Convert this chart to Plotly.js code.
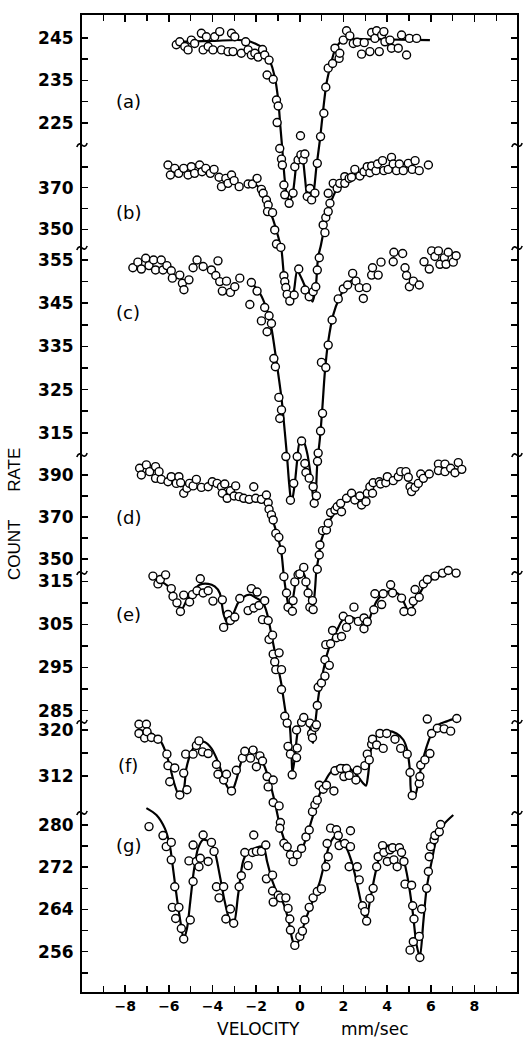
<!DOCTYPE html>
<html>
<head>
<meta charset="utf-8">
<script src="https://cdn.plot.ly/plotly-3.0.1.min.js"></script>
<style>html,body{margin:0;padding:0;background:#fff;}#chart{width:525px;height:1043px;}</style>
</head>
<body>
<div id="chart"></div>
<script>
// ---------- data (velocity mm/sec, count rate) ----------
const aX = [-5.66,-5.50,-5.27,-5.12,-4.97,-4.82,-4.51,-4.43,-4.28,-4.20,-3.98,-3.90,-3.67,-3.59,-3.29,-3.13,-2.98,-3.06,-2.68,-2.48,-2.37,-2.22,-2.06,-1.91,-1.71,-1.61,-1.41,-1.50,-1.22,-1.07,-0.99,-1.04,-0.92,-0.84,-0.80,-0.73,-0.69,-0.49,-0.31,-0.23,-0.08,0.03,0.05,0.15,0.23,0.34,0.46,0.54,0.69,0.80,0.95,1.10,1.19,1.30,1.50,1.61,1.80,1.83,1.99,2.14,2.29,2.45,2.63,2.83,2.95,3.21,3.29,3.44,3.52,3.64,3.75,3.90,3.85,4.13,4.20,4.51,4.66,4.89,5.02,5.35];
const aY = [243.4,244.1,243.0,242.2,244.5,243.7,246.1,242.2,245.3,243.0,242.2,245.3,246.5,242.2,241.8,246.1,245.3,241.8,241.4,244.1,242.2,241.0,241.4,240.5,242.3,241.0,239.8,236.3,235.3,230.4,229.0,225.1,219.0,216.5,215.1,210.4,208.1,206.1,208.5,214.7,216.3,222.0,217.5,216.3,217.7,207.7,209.6,206.9,208.5,215.5,221.8,227.3,233.4,237.9,239.0,242.6,240.2,241.4,244.5,246.7,245.5,243.7,244.0,241.2,243.9,241.8,246.3,244.9,246.7,241.8,245.7,244.1,246.5,244.5,242.6,242.6,245.7,241.0,244.9,244.9];
const aFitX = [-5.66,-4.0,-2.45,-1.68,-1.38,-1.15,-0.99,-0.89,-0.80,-0.69,-0.58,-0.46,-0.31,-0.15,0.0,0.12,0.23,0.34,0.46,0.61,0.76,0.92,1.07,1.22,1.41,1.61,1.83,2.14,3.21,5.96];
const aFitY = [244.1,244.3,244.4,242.6,239.8,235.9,230.4,224.1,218.7,211.6,207.7,206.5,208.9,215.5,218.3,217.1,212.4,207.7,206.5,208.1,214.7,221.0,228.1,234.3,238.6,242.2,243.9,244.7,244.7,244.5];

const bX = [-6.04,-5.93,-5.73,-5.55,-5.32,-5.12,-4.97,-4.82,-4.59,-4.48,-4.31,-4.10,-3.93,-3.70,-3.59,-3.39,-3.29,-3.13,-3.01,-2.78,-2.37,-2.17,-1.96,-1.76,-1.68,-1.53,-1.45,-1.48,-1.25,-1.15,-1.07,-0.87,-0.73,-0.69,-0.64,-0.58,-0.46,-0.26,-0.05,0.24,0.43,0.61,0.73,0.80,0.89,1.07,1.15,1.19,1.30,1.38,1.30,1.53,1.71,1.83,2.06,2.06,2.26,2.37,2.52,2.75,2.94,3.09,3.21,3.29,3.49,3.56,3.79,3.85,4.05,4.20,4.28,4.43,4.56,4.74,4.97,5.15,5.28,5.47,5.89];
const bY = [380.9,376.1,379.3,376.9,379.3,376.1,380.1,376.9,380.9,377.7,379.3,376.9,378.8,375.0,370.5,374.5,372.1,376.1,373.4,370.5,371.8,371.8,374.5,369.2,367.3,364.1,361.7,358.5,358.0,349.7,342.9,341.3,327.7,324.8,322.0,318.7,315.5,318.4,330.9,320.8,317.6,320.0,322.4,330.4,336.3,352.1,348.4,355.7,358.5,362.5,367.3,372.1,369.7,372.1,375.3,372.1,374.5,375.0,378.8,375.6,377.7,380.1,377.2,380.4,378.2,381.4,383.0,378.2,378.8,384.6,381.4,378.2,381.4,378.2,381.7,378.8,383.0,378.2,380.9];
const bFitX = [-2.14,-1.76,-1.45,-1.22,-0.99,-0.84,-0.73,-0.61,-0.46,-0.28,-0.12,0.08,0.31,0.58,0.73,0.84,0.95,1.15,1.38,1.68,2.14,2.91];
const bFitY = [372.4,368.9,360.9,354.5,346.4,340.0,327.9,319.9,315.5,320.0,330.0,326.4,320.8,315.2,322.4,336.8,341.6,352.1,361.7,368.9,373.7,377.7];

const cX = [-7.65,-7.42,-7.26,-7.06,-6.91,-6.70,-6.61,-6.35,-6.27,-6.09,-5.89,-5.84,-5.50,-5.38,-5.31,-5.08,-4.89,-4.71,-4.43,-4.05,-3.85,-3.75,-3.67,-3.55,-3.36,-3.18,-2.98,-2.75,-2.29,-2.22,-1.96,-1.76,-1.61,-1.50,-1.41,-1.30,-1.19,-1.12,-0.96,-0.84,-0.92,-0.64,
  -0.12,0.23,0.28,0.43,-0.43,-0.28,0.61,0.66,0.76,0.81,0.84,0.08,
  0.95,1.04,0.99,1.19,1.30,1.48,1.76,1.99,2.19,2.42,2.57,2.72,2.91,3.06,3.29,3.33,3.59,3.72,4.28,4.31,4.71,4.82,4.89,5.02,5.20,5.47,5.69,5.93,6.04,6.19,6.35,6.42,6.62,6.70,6.80,7.03,7.16];
const cY = [353.2,354.5,352.9,355.4,353.7,355.0,352.7,355.0,352.7,353.7,352.5,350.8,351.5,349.6,348.1,350.4,353.2,355.0,353.5,352.7,351.4,354.8,350.0,347.8,350.1,347.5,348.8,350.8,344.7,349.8,347.8,340.9,344.0,338.4,342.1,340.3,332.2,330.3,323.2,320.3,318.3,309.5,
  309.5,307.9,305.8,304.5,299.4,303.3,302.5,298.7,300.4,308.4,310.3,313.1,
  315.4,319.5,331.3,330.1,335.3,341.1,346.0,348.3,349.2,351.9,350.1,348.6,346.1,348.6,351.5,353.2,351.5,354.5,354.6,356.8,356.5,353.2,351.4,348.8,350.1,349.2,354.6,352.9,357.1,355.8,357.1,354.0,355.5,354.0,356.8,354.5,356.0];
const cFitX = [-2.22,-1.83,-1.53,-1.30,-1.07,-0.84,-0.69,-0.58,-0.49,-0.38,-0.23,-0.12,0.0,0.18,0.34,0.49,0.61,0.69,0.80,0.92,1.02,1.15,1.30,1.53,1.80,2.14,2.45,2.72];
const cFitY = [349.8,347.3,343.8,339.2,331.5,323.0,315.3,309.1,303.3,298.7,303.3,308.7,312.8,312.8,310.2,305.4,300.0,297.8,307.9,313.7,319.9,329.2,336.1,342.3,346.1,349.1,350.4,349.1];

const dX = [-7.34,-7.26,-7.03,-6.88,-6.61,-6.61,-6.45,-6.35,-6.04,-5.89,-5.66,-5.54,-5.46,-5.32,-5.17,-5.05,-4.89,-4.74,-4.51,-4.20,-4.01,-3.79,-3.59,-3.44,-3.55,-3.33,-3.18,-3.01,-2.94,-2.78,-2.57,-2.32,-2.11,-2.02,-1.76,-1.53,-1.45,-1.41,-1.30,-1.22,-1.10,-0.96,-0.84,-0.73,
  -0.61,-0.54,-0.34,-0.31,-0.23,-0.08,0.28,0.38,0.46,0.58,0.61,0.00,0.18,
  0.80,0.89,0.92,1.04,1.22,1.30,1.41,1.61,1.71,1.91,1.87,2.14,2.37,2.52,2.75,2.83,3.03,3.09,3.21,3.33,3.36,3.64,3.70,3.94,4.01,4.28,4.51,4.62,4.86,4.97,5.05,5.12,5.28,5.43,5.54,5.66,5.93,6.35,6.65,6.35,6.65,6.91,7.11,7.26,7.42];
const dY = [393.2,390.0,394.8,391.6,394.0,388.4,391.6,387.9,386.8,389.2,386.0,389.2,386.3,381.3,383.7,386.0,384.8,387.9,384.1,384.4,386.8,386.0,384.4,385.7,381.3,378.9,382.5,380.0,384.8,379.7,378.9,378.4,384.4,378.9,378.4,380.5,376.8,373.7,371.0,368.6,362.2,360.3,354.3,341.6,
  333.8,327.0,325.1,330.2,339.1,342.5,339.1,333.8,327.0,330.2,325.9,342.9,346.0,
  345.1,351.9,356.7,363.5,363.8,367.0,372.1,373.3,374.9,372.5,376.5,378.9,381.3,378.1,380.0,375.7,377.3,381.3,384.4,381.3,386.3,386.8,385.7,386.3,389.2,387.3,389.2,391.6,391.6,388.9,384.4,382.1,384.1,386.0,390.5,388.4,390.5,395.2,395.2,392.1,391.6,393.2,391.1,395.9,392.7];
const dFitX = [-1.71,-1.45,-1.22,-0.99,-0.84,-0.73,-0.61,-0.46,-0.31,-0.15,0.03,0.23,0.43,0.58,0.70,0.76,0.84,0.99,1.22,1.53,1.99];
const dFitY = [379.7,374.9,367.8,359.8,352.7,341.6,333.0,325.1,331.5,341.0,344.9,341.8,331.5,325.1,336.2,344.9,349.5,359.1,365.4,371.0,376.5];

const eX = [-6.73,-6.50,-6.39,-6.15,-5.89,-5.81,-5.63,-5.47,-5.32,-5.05,-4.92,-4.71,-4.56,-4.43,-4.20,-3.98,-3.55,-3.49,-3.29,-3.18,-2.98,-2.75,-2.37,-2.22,-2.11,-1.96,-1.87,-1.71,-1.61,-1.45,-1.41,-1.25,-1.22,-0.95,-1.15,-1.10,-0.84,-0.84,-0.69,-0.58,
  -0.54,-0.43,-0.35,-0.15,-0.12,-0.15,0.08,0.18,0.46,0.54,0.58,0.69,0.76,
  0.80,0.84,0.99,1.15,1.15,1.35,1.19,1.41,1.50,1.68,1.91,1.99,2.14,2.26,2.48,2.68,2.94,2.94,3.09,3.39,3.44,3.75,3.82,4.16,4.25,4.66,4.77,5.12,5.20,5.28,5.47,5.66,5.84,6.19,6.54,6.80,7.16];
const eY = [316.2,314.4,315.4,316.5,313.3,311.5,310.0,308.0,311.8,310.2,311.9,312.8,315.6,312.3,312.8,310.4,310.7,304.3,307.3,305.9,306.7,311.0,308.2,313.3,308.8,312.5,309.4,306.1,310.5,305.9,301.5,302.5,298.1,298.4,296.3,294.5,294.5,289.9,283.7,282.1,
  276.7,274.9,270.1,274.1,276.3,280.5,282.3,283.4,282.1,279.7,278.7,281.1,281.7,
  286.2,290.4,291.4,293.0,296.8,295.5,300.3,300.5,303.6,301.9,302.2,306.9,304.3,306.1,309.0,305.7,306.5,304.0,305.6,308.4,312.1,309.6,312.1,314.2,312.3,311.1,308.0,308.0,310.4,313.1,311.3,314.4,315.4,316.2,316.9,317.5,316.9];
const eFitX = [-6.70,-6.35,-5.96,-5.66,-5.43,-5.20,-4.89,-4.59,-4.20,-3.90,-3.67,-3.49,-3.29,-3.06,-2.83,-2.60,-2.29,-1.99,-1.76,-1.61,-1.45,-1.30,-1.15,-0.99,-0.84,-0.73,-0.61,-0.49,-0.38,-0.34,-0.23,-0.12,0.03,0.23,0.43,0.55,0.61,0.70,0.80,0.89,1.04,1.22,1.45,1.68,1.91,2.14,2.37,2.60,2.83,2.94,3.09,3.29,3.52,3.82,4.20,4.51,4.74,4.97,5.12,5.28,5.50,5.81,6.19,6.73,7.19];
const eFitY = [316.2,315.0,313.5,310.7,308.4,310.4,312.7,314.2,314.4,313.8,312.3,307.3,305.0,307.3,310.0,311.3,311.9,311.1,310.4,309.2,306.5,302.6,298.8,294.9,291.0,287.2,283.7,282.5,274.7,270.5,274.1,279.4,282.8,283.4,281.7,278.2,277.5,281.7,286.2,289.5,293.4,297.6,301.1,303.4,305.7,306.9,306.7,306.1,305.0,304.0,304.8,307.7,310.4,312.1,312.7,312.1,310.4,308.2,308.4,310.4,312.3,314.6,315.8,316.9,317.5];

const fX = [-7.37,-7.03,-7.37,-7.11,-7.00,-6.80,-6.50,-6.09,-6.04,-5.96,-5.73,-5.50,-5.32,-5.23,-5.17,-4.89,-4.74,-4.62,-4.46,-4.20,-3.82,-3.75,-3.49,-3.36,-3.13,-2.91,-2.63,-2.52,-2.26,-2.14,-1.99,-1.83,-1.71,-1.50,-1.45,-1.22,-1.22,-0.95,-0.89,-0.92,-0.73,-0.58,-0.43,-0.31,-0.12,0.08,0.28,0.43,0.58,0.69,0.80,0.89,1.07,1.22,1.56,1.61,1.87,2.14,2.02,2.26,2.57,2.63,2.98,3.09,3.18,3.29,3.33,3.52,3.67,3.82,3.98,4.36,4.62,4.92,5.05,5.15,5.47,5.50,5.54,5.73,5.96,6.04,5.84,6.30,6.61,6.91,7.19];
const fY = [321.0,321.0,319.4,318.6,319.7,318.7,318.4,315.8,313.8,311.0,313.4,308.7,312.5,315.8,309.6,315.8,317.3,318.1,316.2,315.9,314.0,312.3,311.3,312.3,309.4,313.0,315.1,316.3,315.1,316.5,313.6,315.5,314.6,311.9,310.1,311.3,307.4,306.8,303.9,302.9,300.3,299.7,298.3,297.1,298.3,299.4,301.4,302.6,305.8,307.0,307.8,310.4,309.7,310.4,309.4,312.9,313.3,313.3,311.9,312.1,311.3,313.0,313.8,315.8,314.8,317.5,318.4,317.4,319.4,316.8,319.4,318.4,316.8,315.8,312.6,308.6,310.7,311.9,313.9,314.8,315.9,319.4,321.9,320.3,320.2,319.8,322.0];
const fFitX = [-7.34,-6.80,-6.42,-6.15,-5.93,-5.73,-5.50,-5.32,-5.20,-4.97,-4.66,-4.36,-4.05,-3.82,-3.59,-3.36,-3.13,-2.91,-2.68,-2.45,-2.14,-1.83,-1.61,-1.38,-1.15,-0.92,-0.69,-0.46,-0.31,-0.08,0.15,0.38,0.61,0.84,1.07,1.38,1.68,1.99,2.29,2.60,2.91,3.03,3.13,3.24,3.39,3.67,4.05,4.43,4.74,4.92,5.05,5.12,5.28,5.43,5.58,5.81,6.04,6.35,6.73,7.19];
const fFitY = [320.0,319.4,318.3,316.2,313.3,310.4,308.4,309.6,313.3,316.2,317.9,317.9,316.8,315.1,312.8,310.4,309.2,311.3,314.5,316.2,316.2,315.4,313.6,311.0,307.5,303.5,300.6,298.3,297.1,298.0,299.7,302.3,305.2,308.1,310.4,312.5,313.6,313.9,313.3,312.2,310.7,310.3,312.2,316.2,318.3,319.4,319.8,319.4,318.3,316.5,312.8,309.0,308.7,311.0,313.9,317.1,319.4,320.9,321.5,322.1];

const gX = [-6.91,-6.27,-6.12,-5.89,-5.89,-5.73,-5.84,-5.54,-5.69,-5.43,-5.32,-5.02,-4.89,-4.89,-5.08,-4.74,-4.62,-4.43,-4.56,-4.20,-4.05,-3.93,-3.82,-3.70,-3.49,-3.39,-3.18,-3.03,-2.78,-2.68,-2.52,-2.37,-2.11,-2.17,-1.99,-1.76,-1.56,-1.53,-1.25,-1.25,-1.22,-0.99,-0.89,-0.64,-0.54,-0.46,-0.43,-0.23,0.00,0.12,0.23,0.43,0.61,0.80,0.99,1.19,1.30,1.25,1.41,1.68,1.76,1.80,2.06,2.32,2.32,2.26,2.63,2.72,2.87,2.98,3.06,3.21,3.36,3.52,3.59,3.79,3.85,4.01,4.13,4.25,4.31,4.46,4.56,4.66,4.77,4.82,5.12,5.17,5.23,5.05,5.20,5.47,5.50,5.58,5.81,5.89,5.93,5.99,6.15,6.19,6.39,6.45];
const gY = [279.7,278.0,275.9,276.7,273.4,268.3,264.4,264.4,262.3,260.4,258.4,262.0,269.3,276.2,273.2,273.1,272.1,278.1,273.7,273.1,276.7,275.0,268.3,266.2,268.3,262.2,264.1,261.4,268.3,270.4,274.8,272.3,278.1,274.8,275.0,275.0,276.2,269.8,270.5,267.5,265.4,266.7,266.2,266.2,264.2,262.2,260.1,257.2,258.9,259.9,262.0,264.4,266.2,267.4,267.9,272.1,274.0,276.5,279.4,279.1,278.0,276.1,276.5,278.9,275.9,272.1,272.1,269.6,264.7,263.6,261.8,266.1,268.0,272.1,274.0,276.1,274.8,273.1,275.3,275.7,273.4,272.1,275.7,274.8,273.1,268.8,268.6,264.7,262.2,256.3,257.9,258.9,254.9,264.1,268.0,271.2,274.0,275.9,277.2,278.0,278.7,280.1];
const gFitX = [-7.03,-6.57,-6.19,-5.96,-5.81,-5.63,-5.47,-5.32,-5.17,-5.02,-4.86,-4.66,-4.43,-4.13,-3.90,-3.67,-3.44,-3.21,-3.03,-2.83,-2.60,-2.37,-2.06,-1.68,-1.50,-1.25,-0.99,-0.76,-0.54,-0.31,-0.18,0.00,0.23,0.46,0.69,0.92,1.15,1.38,1.61,1.91,2.14,2.37,2.60,2.83,3.03,3.21,3.44,3.67,3.90,4.20,4.51,4.74,4.97,5.17,5.35,5.50,5.66,5.81,6.04,6.27,6.57,7.03];
const gFitY = [283.2,281.9,279.4,276.2,271.8,266.1,261.7,258.5,260.4,265.5,271.2,275.6,277.2,276.8,275.0,270.5,265.5,262.0,261.4,266.7,273.1,275.0,275.6,275.9,273.1,269.3,266.7,265.2,262.3,257.9,257.3,258.5,261.7,264.2,266.7,269.3,273.1,276.5,277.8,276.8,275.6,273.1,269.3,264.9,262.0,265.5,270.5,274.3,275.9,276.2,275.9,273.7,269.3,263.6,257.3,255.1,261.7,268.0,273.1,277.5,280.0,281.9];

// tick values and labels of each panel's count-rate scale
const aTicks = [225,230,235,240,245];             const aTickText = ['225','','235','','245'];
const bTicks = [350,360,370,380];                 const bTickText = ['350','','370',''];
const cTicks = [315,320,325,330,335,340,345,350,355]; const cTickText = ['315','','325','','335','','345','','355'];
const dTicks = [350,360,370,380,390];             const dTickText = ['350','','370','','390'];
const eTicks = [285,290,295,300,305,310,315];     const eTickText = ['285','','295','','305','','315'];
const fTicks = [312,316,320];                     const fTickText = ['312','','320'];
const gTicks = [252,256,260,264,268,272,276,280]; const gTickText = ['','256','','264','','272','','280'];
const panelLabels = ['(a)','(b)','(c)','(d)','(e)','(f)','(g)'];

// ---------- layout helpers ----------
const panels = [
  {px:aX, py:aY, fx:aFitX, fy:aFitY, tv:aTicks, tt:aTickText, range:[20.53,250.41], ly:0.911},
  {px:bX, py:bY, fx:bFitX, fy:bFitY, tv:bTicks, tt:bTickText, range:[-16.68,453.03], ly:0.798},
  {px:cX, py:cY, fx:cFitX, fy:cFitY, tv:cTicks, tt:cTickText, range:[185.56,411.71], ly:0.696},
  {px:dX, py:dY, fx:dFitX, fy:dFitY, tv:dTicks, tt:dTickText, range:[143.81,609.05], ly:0.486},
  {px:eX, py:eY, fx:eFitX, fy:eFitY, tv:eTicks, tt:eTickText, range:[219.71,446.39], ly:0.386},
  {px:fX, py:fY, fx:fFitX, fy:fFitY, tv:fTicks, tt:fTickText, range:[274.43,444.35], ly:0.232},
  {px:gX, py:gY, fx:gFitX, fy:gFitY, tv:gTicks, tt:gTickText, range:[248.37,433.41], ly:0.150}
];

const traces = [];
const layout = {
  width:525, height:1043,
  margin:{l:82, r:8, t:15, b:51},
  paper_bgcolor:'#fff', plot_bgcolor:'#fff',
  showlegend:false,
  xaxis:{
    range:[-9.98,9.95], domain:[0,1], anchor:'y',
    tickmode:'linear', tick0:0, dtick:2,
    ticks:'inside', ticklen:7, tickwidth:1.5, tickcolor:'#000',
    minor:{tick0:0, dtick:1, ticks:'inside', ticklen:6, tickwidth:1.5, tickcolor:'#000'},
    showline:true, linecolor:'#000', linewidth:2, mirror:'ticks',
    showgrid:false, zeroline:false,
    tickfont:{family:'DejaVu Sans', size:14, weight:'bold', color:'#000'},
    ticklabelstandoff:0
  },
  annotations:[], shapes:[]
};

panels.forEach((p, i) => {
  const yname = i === 0 ? 'y' : 'y' + (i + 1);
  const lname = i === 0 ? 'yaxis' : 'yaxis' + (i + 1);
  const ax = {
    domain:[0,1], range:p.range, anchor:'x',
    tickmode:'array', tickvals:p.tv, ticktext:p.tt,
    ticks:'inside', ticklen:6, tickwidth:1.5, tickcolor:'#000',
    showline:true, linecolor:'#000', linewidth:2, mirror:'ticks',
    showgrid:false, zeroline:false,
    tickfont:{family:'DejaVu Sans', size:17, weight:'bold', color:'#000'},
    ticklabelstandoff:3
  };
  if (i > 0) ax.overlaying = 'y';
  layout[lname] = ax;
  traces.push({x:p.fx, y:p.fy, xaxis:'x', yaxis:yname, type:'scatter', mode:'lines',
    line:{color:'#000', width:2.2, shape:'spline', smoothing:0.8}, hoverinfo:'skip'});
  traces.push({x:p.px, y:p.py, xaxis:'x', yaxis:yname, type:'scatter', mode:'markers',
    marker:{symbol:'circle', size:8, color:'#fff', line:{color:'#000', width:1.4}}, hoverinfo:'skip'});
  layout.annotations.push({text:panelLabels[i], xref:'paper', yref:'paper', x:0.106, y:p.ly,
    xanchor:'center', yanchor:'middle', showarrow:false,
    font:{family:'DejaVu Sans', size:18, color:'#000'}});
});

// axis break marks (paper fractions)
const breaks = [0.8669, 0.7615, 0.5496, 0.4289, 0.2764, 0.1832];
breaks.forEach(b => {
  [0, 1].forEach(xp => {
    layout.shapes.push({type:'path', xref:'paper', yref:'paper',
      path:`M ${xp-0.012} ${b-0.002} C ${xp-0.004} ${b+0.007}, ${xp+0.004} ${b-0.007}, ${xp+0.012} ${b+0.002}`,
      line:{color:'#000', width:1.6}});
  });
});

// axis titles
layout.annotations.push({text:'RATE', xref:'paper', yref:'paper', x:-0.155, y:0.534, textangle:-90,
  xanchor:'center', yanchor:'middle', showarrow:false, font:{family:'Liberation Sans', size:17, color:'#000'}});
layout.annotations.push({text:'COUNT', xref:'paper', yref:'paper', x:-0.155, y:0.452, textangle:-90,
  xanchor:'center', yanchor:'middle', showarrow:false, font:{family:'Liberation Sans', size:17, color:'#000'}});
layout.annotations.push({text:'VELOCITY', xref:'paper', yref:'paper', x:(258-82)/435, y:-0.038,
  xanchor:'center', yanchor:'middle', showarrow:false, font:{family:'DejaVu Sans', size:17, color:'#000'}});
layout.annotations.push({text:'mm/sec', xref:'paper', yref:'paper', x:(375-82)/435, y:-0.038,
  xanchor:'center', yanchor:'middle', showarrow:false, font:{family:'DejaVu Sans', size:17, color:'#000'}});

Plotly.newPlot('chart', traces, layout, {displayModeBar:false, staticPlot:true});
</script>
</body>
</html>
